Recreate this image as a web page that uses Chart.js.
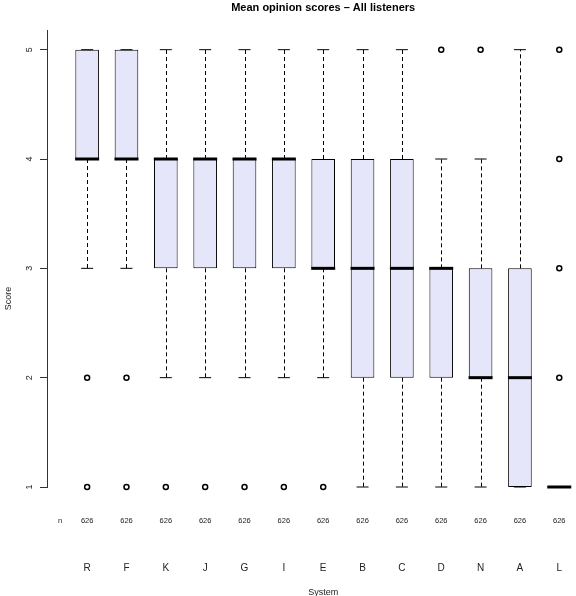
<!DOCTYPE html>
<html>
<head>
<meta charset="utf-8">
<script src="https://cdn.jsdelivr.net/npm/chart.js@4.4.0/dist/chart.umd.min.js"></script>
<style>
  html, body { margin: 0; padding: 0; background: #fff; overflow: hidden; }
  #wrap { width: 576px; height: 596px; overflow: hidden; }
</style>
</head>
<body>
<div id="wrap"><canvas id="chart" width="640" height="596"></canvas></div>
<script>
const systems = ["R", "F", "K", "J", "G", "I", "E", "B", "C", "D", "N", "A", "L"];
const counts = [626, 626, 626, 626, 626, 626, 626, 626, 626, 626, 626, 626, 626];
const whiskerLow = [3, 3, 2, 2, 2, 2, 2, 1, 1, 1, 1, 1, 1];
const boxLow = [4, 4, 3, 3, 3, 3, 3, 2, 2, 2, 2, 1, 1];
const medians = [4, 4, 4, 4, 4, 4, 3, 3, 3, 3, 2, 2, 1];
const boxHigh = [5, 5, 4, 4, 4, 4, 4, 4, 4, 3, 3, 3, 1];
const whiskerHigh = [5, 5, 5, 5, 5, 5, 5, 5, 5, 4, 4, 5, 1];
const outliers = [[2, 1], [2, 1], [1], [1], [1], [1], [1], [], [], [5], [5], [], [2, 3, 4, 5]];
const yTicks = [1, 2, 3, 4, 5];

const FONT = "'Liberation Sans', Arial, Helvetica, sans-serif";
const BOX_FILL = "#E6E6FA";

const boxData = systems.map((s, i) => ({ x: i + 1, y: [boxLow[i], boxHigh[i]] }));
const medianData = systems.map((s, i) => ({ x: i + 1, y: medians[i] }));
const capData = systems.flatMap((s, i) => [
  { x: i + 1, y: whiskerLow[i] },
  { x: i + 1, y: whiskerHigh[i] },
]);
const outlierData = outliers.flatMap((vals, i) => vals.map((v) => ({ x: i + 1, y: v })));

// dashed whiskers under the boxes, plus the R-style text bits
const boxExtras = {
  id: "boxExtras",
  beforeDatasetsDraw(chart) {
    const { ctx, scales: { x, y } } = chart;
    ctx.save();
    ctx.strokeStyle = "#000";
    ctx.lineWidth = 1;
    ctx.setLineDash([4, 3]);
    systems.forEach((s, i) => {
      const px = Math.round(x.getPixelForValue(i + 1)) + 0.5;
      ctx.beginPath();
      ctx.moveTo(px, y.getPixelForValue(boxLow[i]));
      ctx.lineTo(px, y.getPixelForValue(whiskerLow[i]));
      ctx.moveTo(px, y.getPixelForValue(boxHigh[i]));
      ctx.lineTo(px, y.getPixelForValue(whiskerHigh[i]));
      ctx.stroke();
    });
    ctx.restore();
  },
  afterDraw(chart) {
    const { ctx, scales: { x, y } } = chart;
    ctx.save();
    ctx.fillStyle = "#222";
    ctx.textAlign = "center";
    ctx.textBaseline = "middle";

    // y tick labels, rotated like R's las = 0
    ctx.font = "9px " + FONT;
    yTicks.forEach((v) => {
      ctx.save();
      ctx.translate(29.5, y.getPixelForValue(v));
      ctx.rotate(-Math.PI / 2);
      ctx.fillText(String(v), 0, 0);
      ctx.restore();
    });

    ctx.save();
    ctx.translate(8.5, 298.5);
    ctx.rotate(-Math.PI / 2);
    ctx.fillText("Score", 0, 0);
    ctx.restore();

    // n row
    ctx.font = "7.5px " + FONT;
    ctx.fillText("n", x.left + 13, 520.5);
    counts.forEach((c, i) => {
      ctx.fillText(String(c), x.getPixelForValue(i + 1), 520.5);
    });
    ctx.restore();
  },
};

new Chart(document.getElementById("chart"), {
  type: "bar",
  data: {
    datasets: [
      {
        type: "line",
        label: "median",
        data: medianData,
        showLine: false,
        pointStyle: "line",
        pointRadius: 12,
        pointHoverRadius: 12,
        pointBorderWidth: 3,
        pointBorderColor: "#000",
        clip: false,
      },
      {
        type: "line",
        label: "whisker caps",
        data: capData,
        showLine: false,
        pointStyle: "line",
        pointRadius: 6,
        pointHoverRadius: 6,
        pointBorderWidth: 1,
        pointBorderColor: "#000",
        clip: false,
      },
      {
        type: "line",
        label: "outliers",
        data: outlierData,
        showLine: false,
        pointStyle: "circle",
        pointRadius: 2.5,
        pointHoverRadius: 2.5,
        pointBorderWidth: 1.5,
        pointBorderColor: "#000",
        pointBackgroundColor: "#fff",
        clip: false,
      },
      {
        label: "box",
        data: boxData,
        backgroundColor: BOX_FILL,
        borderColor: "#000",
        borderWidth: 1,
        borderSkipped: false,
        barPercentage: 0.6,
        categoryPercentage: 1,
        clip: false,
      },
    ],
  },
  options: {
    responsive: false,
    animation: false,
    devicePixelRatio: 1,
    layout: { padding: { left: 0, right: 37.5, top: 0, bottom: 0 } },
    plugins: {
      legend: { display: false },
      tooltip: { enabled: false },
      title: {
        display: true,
        fullSize: false,
        text: "Mean opinion scores \u2013 All listeners",
        color: "#000",
        font: { family: FONT, size: 11, weight: "bold" },
        padding: { top: 1, bottom: 15.8 },
      },
    },
    scales: {
      x: {
        type: "linear",
        min: -0.02,
        max: 14.02,
        offset: false,
        grid: { display: false, drawTicks: false },
        border: { display: false },
        afterBuildTicks: (scale) => {
          scale.ticks = systems.map((s, i) => ({ value: i + 1 }));
        },
        afterFit: (scale) => {
          scale.height = 109;
        },
        ticks: {
          autoSkip: false,
          maxRotation: 0,
          padding: 75,
          color: "#222",
          font: { family: FONT, size: 10 },
          callback: (v) => systems[v - 1],
        },
        title: {
          display: true,
          text: "System",
          color: "#222",
          font: { family: FONT, size: 9, lineHeight: 0.8 },
          padding: { top: 0, bottom: 0 },
        },
      },
      y: {
        min: 1,
        max: 5.18,
        grid: {
          display: true,
          drawOnChartArea: false,
          drawTicks: true,
          tickLength: 7,
          color: "#333",
        },
        border: { display: true, color: "#333", width: 1 },
        afterBuildTicks: (scale) => {
          scale.ticks = yTicks.map((v) => ({ value: v }));
        },
        afterFit: (scale) => {
          scale.width = 47;
        },
        ticks: { display: false },
      },
    },
  },
  plugins: [boxExtras],
});
</script>
</body>
</html>
